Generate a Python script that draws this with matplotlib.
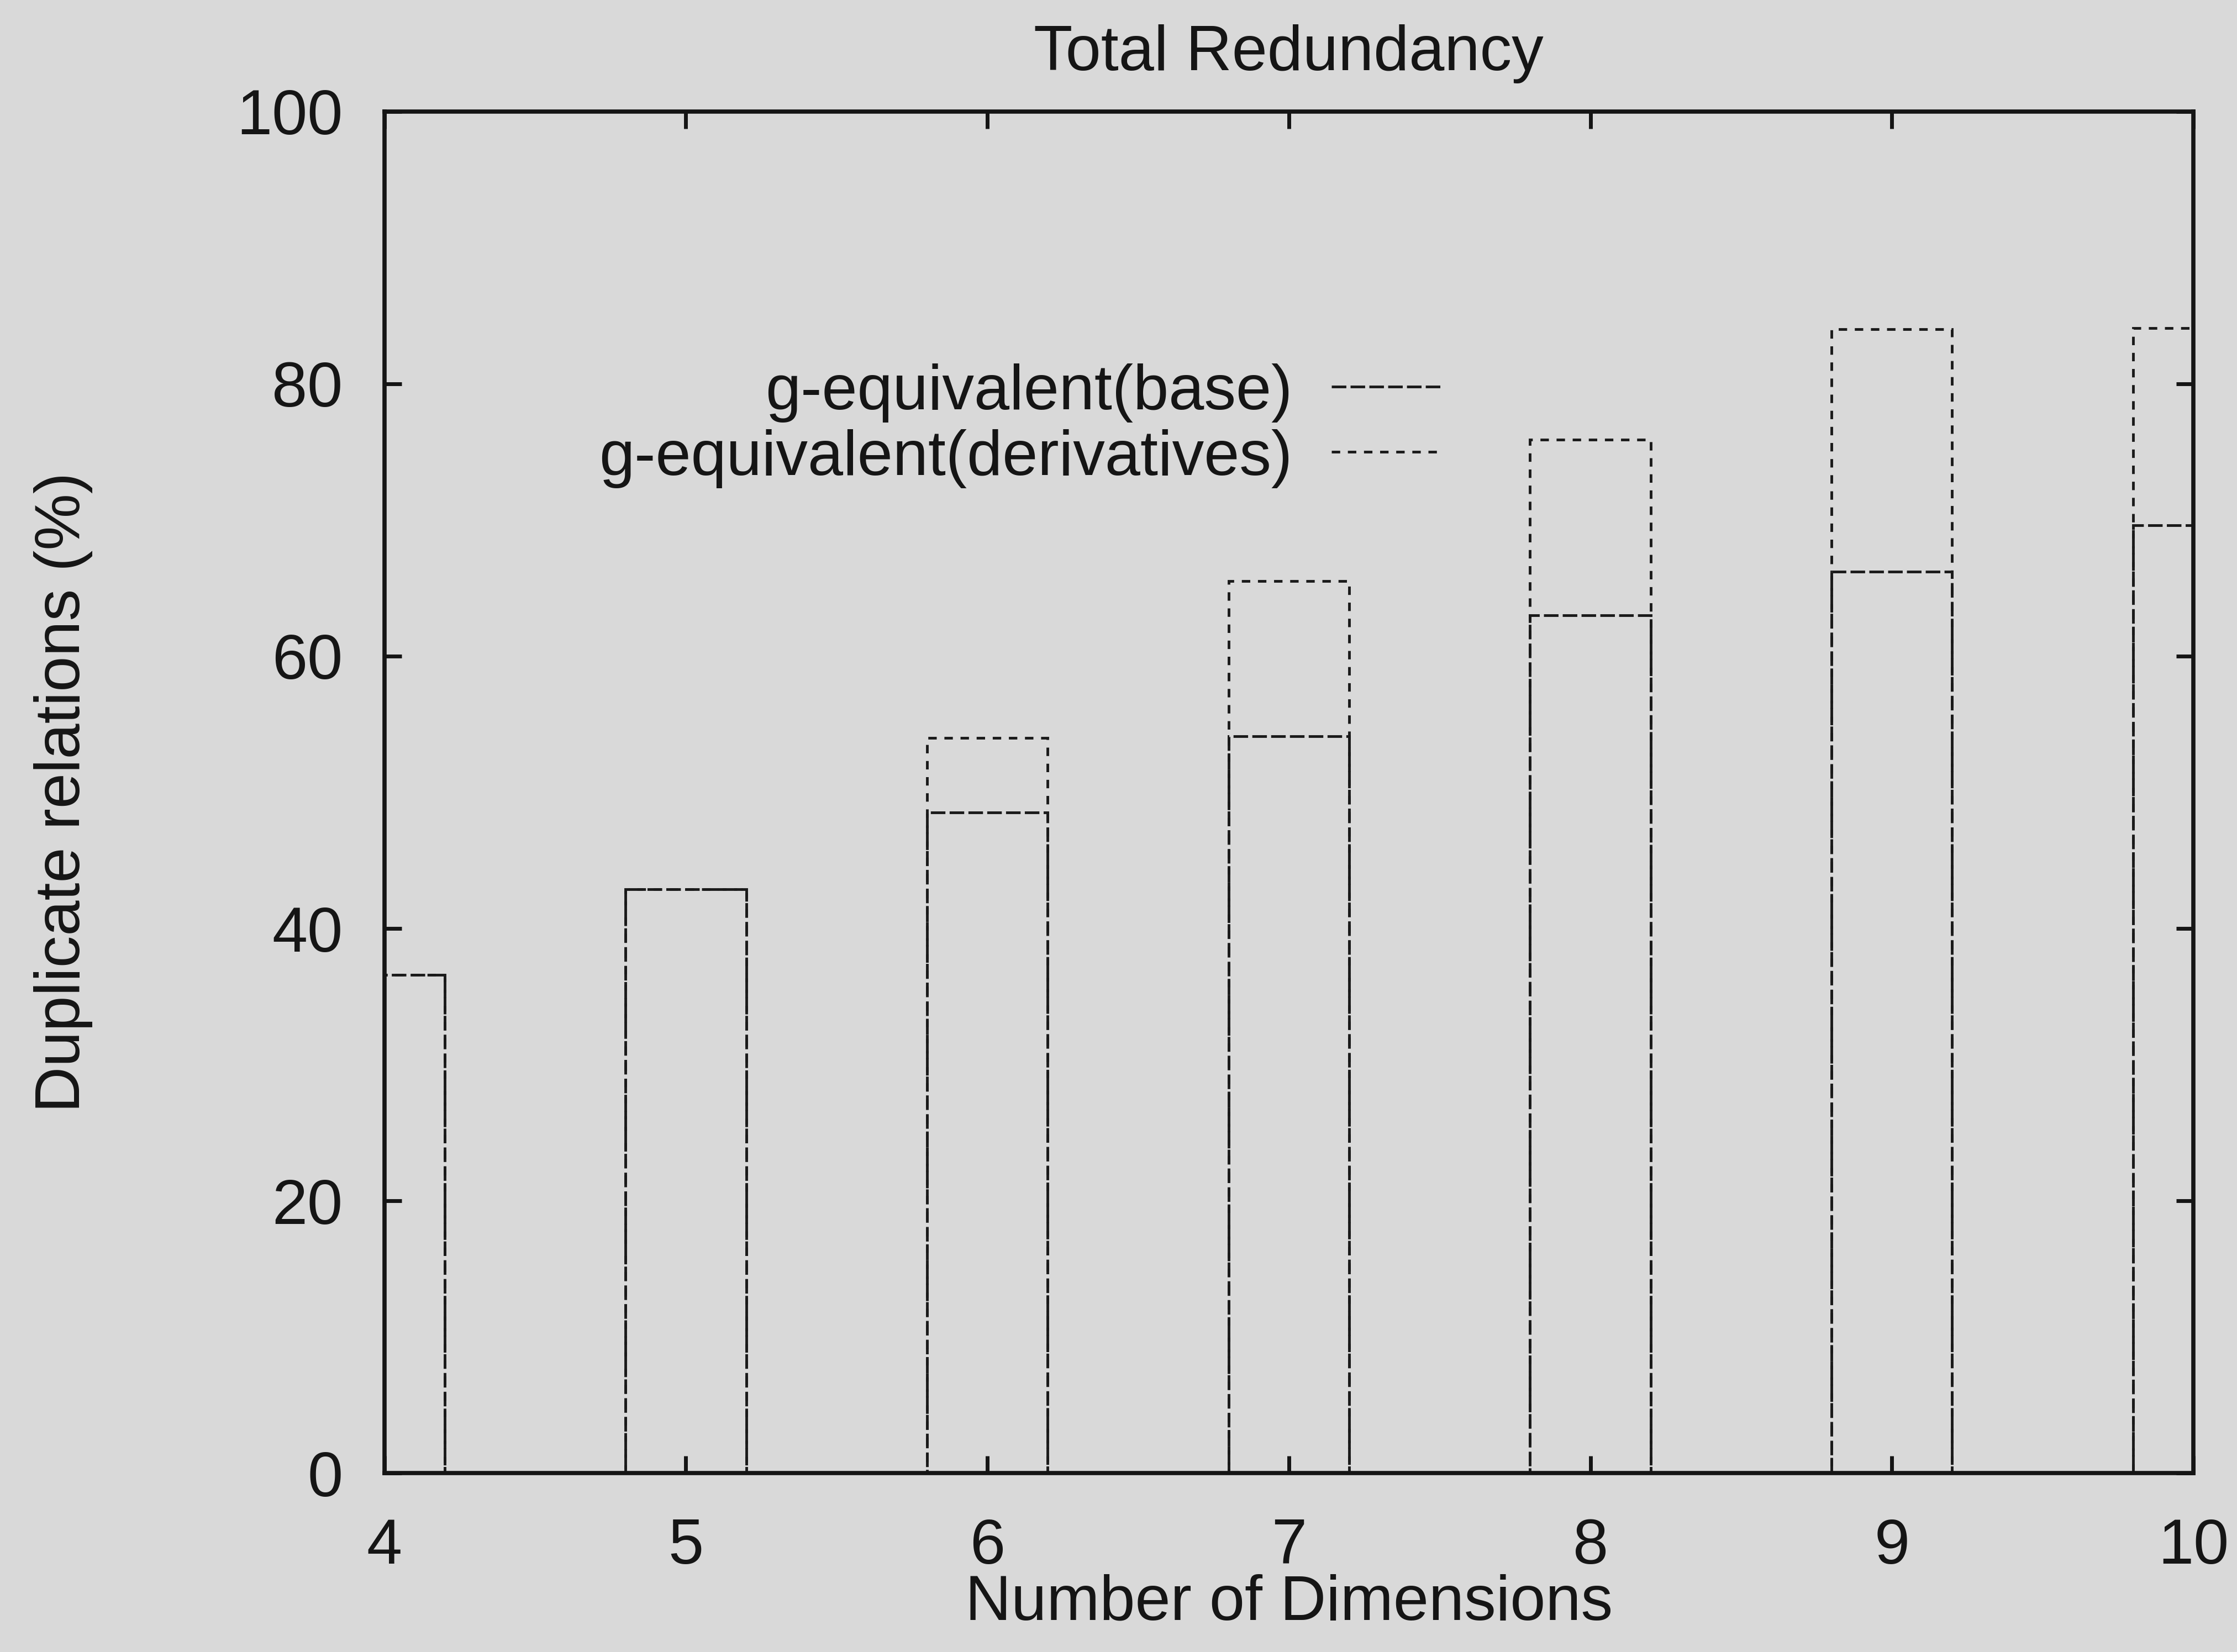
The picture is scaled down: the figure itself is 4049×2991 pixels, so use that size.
import matplotlib
matplotlib.use("Agg")
import matplotlib.pyplot as plt
import numpy as np

# Data: share of duplicate relations per number of dimensions
dimensions = [4, 5, 6, 7, 8, 9, 10]
base_pct = [36.6, 42.9, 48.5, 54.1, 63.0, 66.2, 69.6]
derivatives_pct = [36.6, 42.9, 54.0, 65.5, 75.9, 84.0, 84.1]
series_labels = ["g-equivalent(base)", "g-equivalent(derivatives)"]
y_ticks = [0, 20, 40, 60, 80, 100]

plt.rcParams["font.family"] = ["Liberation Sans", "DejaVu Sans"]
plt.rcParams["lines.scale_dashes"] = False

BG = "#d9d9d9"
INK = "#151515"
LINE = "#1a1a1a"
FS = 83

base_dash = (0, (19, 5.5))
deriv_dash = (0, (11, 10))

fig = plt.figure(figsize=(40.49, 29.91), dpi=100, facecolor=BG)
ax = fig.add_axes([0.1718, 0.1083, 0.9805 - 0.1718, 0.9325 - 0.1083])
ax.set_facecolor(BG)

bar_w = 0.4
ax.bar(dimensions, base_pct, width=bar_w, fill=False, edgecolor=LINE,
       linewidth=3.5, linestyle=base_dash, zorder=2)
ax.bar(dimensions, derivatives_pct, width=bar_w, fill=False, edgecolor=LINE,
       linewidth=3.5, linestyle=deriv_dash, zorder=2)

ax.set_xlim(4, 10)
ax.set_ylim(0, 100)
ax.set_xticks(dimensions)
ax.set_yticks(y_ticks)
ax.set_xticklabels([str(d) for d in dimensions])
ax.set_yticklabels([str(t) for t in y_ticks])

for sp in ax.spines.values():
    sp.set_linewidth(5.5)
    sp.set_color(INK)
    sp.set_zorder(3)

ax.tick_params(axis="both", which="major", direction="in", length=22,
               width=5, color=INK, labelsize=FS, labelcolor=INK,
               top=True, right=True)
ax.tick_params(axis="x", pad=58)
ax.tick_params(axis="y", pad=54)

ax.set_title("Total Redundancy", fontsize=FS, color=INK, pad=54)
ax.set_xlabel("Number of Dimensions", fontsize=FS, color=INK)
ax.set_ylabel("Duplicate relations (%)", fontsize=FS, color=INK)
ax.xaxis.set_label_coords(0.5, -0.074)
ax.yaxis.set_label_coords(-0.161, 0.5)

# Key: right-aligned labels with line samples to their right
key_rows = [(series_labels[0], base_dash, 0.798),
            (series_labels[1], deriv_dash, 0.750)]
for label, dash, yk in key_rows:
    ax.text(0.502, yk, label, transform=ax.transAxes, ha="right",
            va="center_baseline", fontsize=FS, color=INK)
    ax.plot([0.5235, 0.586], [yk, yk], transform=ax.transAxes,
            color=LINE, linewidth=3.5, linestyle=dash, clip_on=False)

fig.savefig("out.png", dpi=100, facecolor=BG)
